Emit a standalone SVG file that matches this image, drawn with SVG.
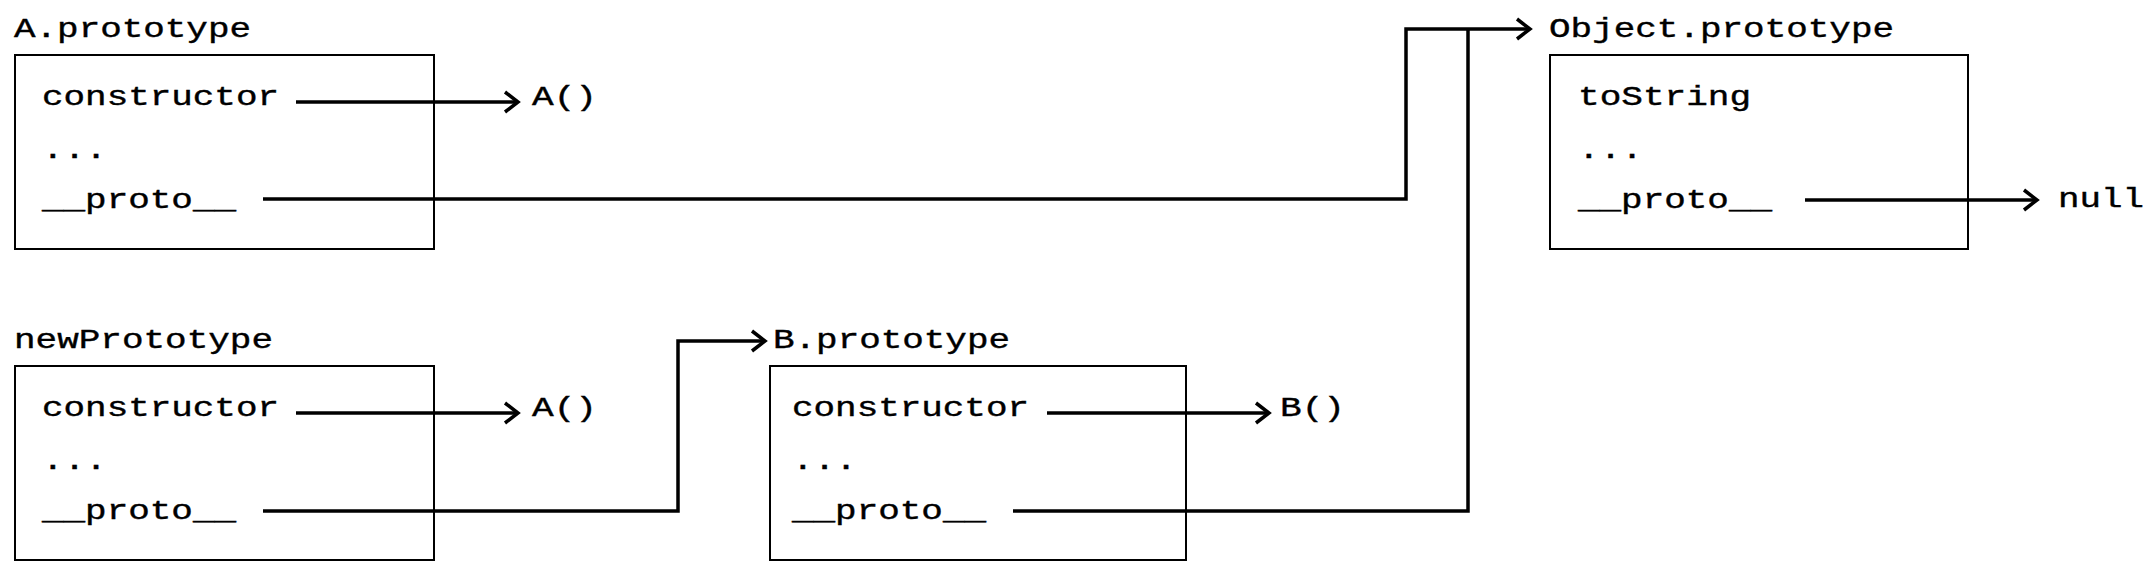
<svg xmlns="http://www.w3.org/2000/svg" width="2152" height="572" viewBox="0 0 2152 572">
<style>
.t{font-family:"Liberation Mono","Courier New",monospace;font-size:28px;fill:#000;stroke:#000;stroke-width:0.4}
.box{fill:none;stroke:#000;stroke-width:2}
.c{fill:none;stroke:#000;stroke-width:3.5;stroke-linejoin:miter}
</style>
<defs>
<marker id="arr" markerUnits="userSpaceOnUse" viewBox="0 0 20 24" markerWidth="20" markerHeight="24" refX="17" refY="12" orient="auto">
<path d="M4,2 L17,12 L4,22" fill="none" stroke="#000" stroke-width="3.5" stroke-linejoin="miter"/>
</marker>
</defs>
<rect width="2152" height="572" fill="#fff"/>
<g id="a-prototype">
<text class="t" x="14" y="37" textLength="237" lengthAdjust="spacingAndGlyphs">A.prototype</text>
<rect class="box" x="15" y="55" width="419" height="194"/>
<text class="t" x="42" y="105" textLength="237" lengthAdjust="spacingAndGlyphs">constructor</text>
<text class="t" x="42" y="158" textLength="65" lengthAdjust="spacingAndGlyphs">...</text>
<text class="t" x="42" y="208" textLength="194" lengthAdjust="spacingAndGlyphs">__proto__</text>
</g>
<g id="a-func-1">
<text class="t" x="532" y="105" textLength="65" lengthAdjust="spacingAndGlyphs">A()</text>
</g>
<g id="object-prototype">
<text class="t" x="1549" y="37" textLength="345" lengthAdjust="spacingAndGlyphs">Object.prototype</text>
<rect class="box" x="1550" y="55" width="418" height="194"/>
<text class="t" x="1578" y="105" textLength="173" lengthAdjust="spacingAndGlyphs">toString</text>
<text class="t" x="1578" y="158" textLength="65" lengthAdjust="spacingAndGlyphs">...</text>
<text class="t" x="1578" y="208" textLength="194" lengthAdjust="spacingAndGlyphs">__proto__</text>
</g>
<g id="null">
<text class="t" x="2058" y="207" textLength="86" lengthAdjust="spacingAndGlyphs">null</text>
</g>
<g id="new-prototype">
<text class="t" x="14" y="348" textLength="259" lengthAdjust="spacingAndGlyphs">newPrototype</text>
<rect class="box" x="15" y="366" width="419" height="194"/>
<text class="t" x="42" y="416" textLength="237" lengthAdjust="spacingAndGlyphs">constructor</text>
<text class="t" x="42" y="469" textLength="65" lengthAdjust="spacingAndGlyphs">...</text>
<text class="t" x="42" y="519" textLength="194" lengthAdjust="spacingAndGlyphs">__proto__</text>
</g>
<g id="a-func-2">
<text class="t" x="532" y="416" textLength="65" lengthAdjust="spacingAndGlyphs">A()</text>
</g>
<g id="b-prototype">
<text class="t" x="773" y="348" textLength="237" lengthAdjust="spacingAndGlyphs">B.prototype</text>
<rect class="box" x="770" y="366" width="416" height="194"/>
<text class="t" x="792" y="416" textLength="237" lengthAdjust="spacingAndGlyphs">constructor</text>
<text class="t" x="792" y="469" textLength="65" lengthAdjust="spacingAndGlyphs">...</text>
<text class="t" x="792" y="519" textLength="194" lengthAdjust="spacingAndGlyphs">__proto__</text>
</g>
<g id="b-func">
<text class="t" x="1280" y="416" textLength="65" lengthAdjust="spacingAndGlyphs">B()</text>
</g>
<g id="connectors">
<path class="c" d="M296,102 H518" marker-end="url(#arr)"/>
<path class="c" d="M263,199 H1406 V29 H1530" marker-end="url(#arr)"/>
<path class="c" d="M1013,511 H1468 V29"/>
<path class="c" d="M1805,200 H2037" marker-end="url(#arr)"/>
<path class="c" d="M296,413 H518" marker-end="url(#arr)"/>
<path class="c" d="M263,511 H678 V341 H765" marker-end="url(#arr)"/>
<path class="c" d="M1047,413 H1269" marker-end="url(#arr)"/>
</g>
</svg>
